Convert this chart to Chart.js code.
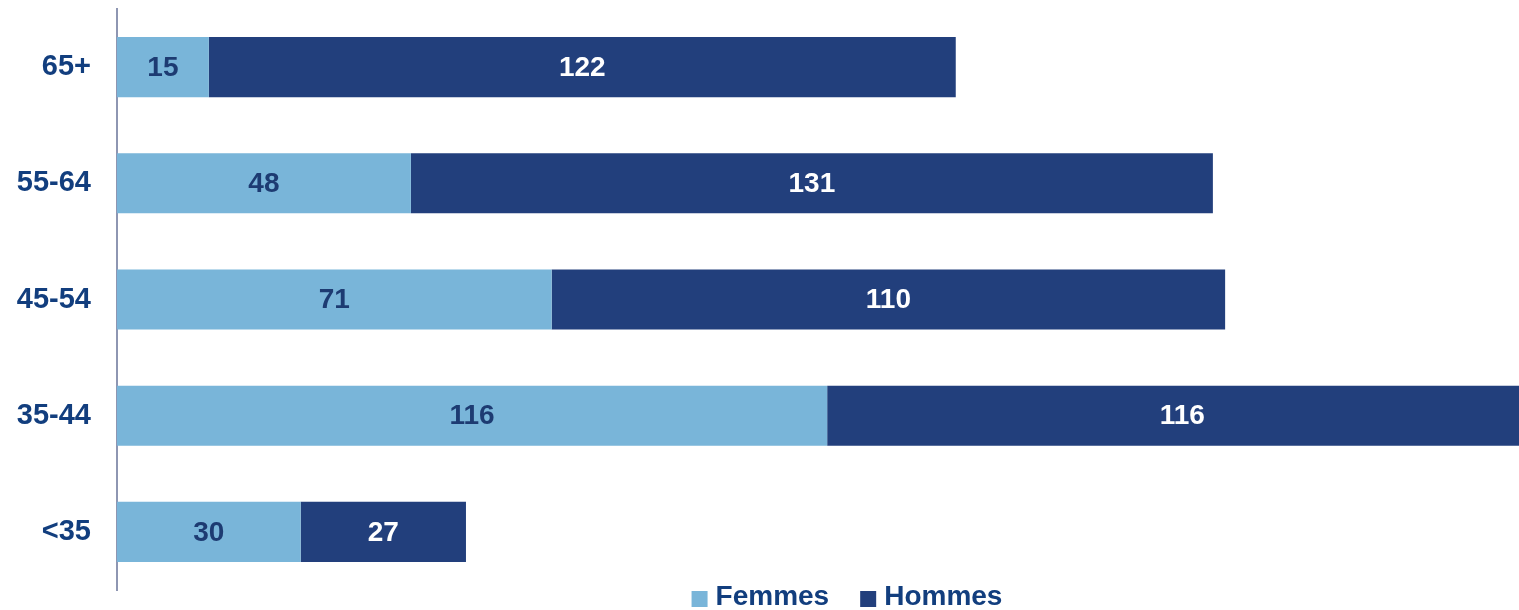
<!DOCTYPE html>
<html>
<head>
<meta charset="utf-8">
<script src="https://cdn.jsdelivr.net/npm/chart.js@4/dist/chart.umd.min.js"></script>
<style>
    html, body { margin: 0; padding: 0; background: #fff; }
    .chart-wrapper { width: 1519px; height: 610px; position: relative; }
</style>
</head>
<body>
<div class="chart-wrapper">
    <canvas id="myChart"></canvas>
</div>
<script>
const ageGroups = ['65+', '55-64', '45-54', '35-44', '<35'];
const femmes = [15, 48, 71, 116, 30];
const hommes = [122, 131, 110, 116, 27];
const seriesNames = ['Femmes', 'Hommes'];

const lightBlue = '#79B5D9';
const darkBlue = '#223F7C';
const textBlue = '#123E7E';
const font = '"Liberation Sans", Arial, sans-serif';

// draws the value in the middle of every bar segment
const barLabels = {
    id: 'barLabels',
    afterDatasetsDraw(chart) {
        const ctx = chart.ctx;
        ctx.save();
        ctx.font = 'bold 28px ' + font;
        ctx.textAlign = 'center';
        ctx.textBaseline = 'middle';
        chart.data.datasets.forEach((ds, i) => {
            chart.getDatasetMeta(i).data.forEach((bar, j) => {
                ctx.fillStyle = i === 0 ? '#1D3B72' : '#ffffff';
                ctx.fillText(ds.data[j], (bar.x + bar.base) / 2, bar.y + 1);
            });
        });
        ctx.restore();
    }
};

// legend under the chart, a bit right of the middle like the original
const bottomLegend = {
    id: 'bottomLegend',
    afterDraw(chart) {
        const ctx = chart.ctx;
        ctx.save();
        ctx.font = 'bold 28px ' + font;
        ctx.textBaseline = 'middle';
        const box = 16, gap = 8, itemGap = 31;
        const widths = chart.data.datasets.map(ds => box + gap + ctx.measureText(ds.label).width);
        const total = widths.reduce((a, b) => a + b, 0) + itemGap * (widths.length - 1);
        const area = chart.chartArea;
        let x = (area.left + area.right) / 2 + 29 - total / 2;
        const y = 597;
        chart.data.datasets.forEach((ds, i) => {
            ctx.fillStyle = ds.backgroundColor;
            ctx.fillRect(x, y - 6, box, box);
            ctx.fillStyle = textBlue;
            ctx.fillText(ds.label, x + box + gap, y);
            x += widths[i] + itemGap;
        });
        ctx.restore();
    }
};

const ref = document.getElementById('myChart').getContext('2d');
const ageChart = new Chart(ref, {
    type: 'bar',
    data: {
        labels: ageGroups,
        datasets: [{
            label: seriesNames[0],
            data: femmes,
            backgroundColor: lightBlue,
            borderWidth: 0
        }, {
            label: seriesNames[1],
            data: hommes,
            backgroundColor: darkBlue,
            borderWidth: 0
        }]
    },
    options: {
        indexAxis: 'y',
        responsive: true,
        maintainAspectRatio: false,
        animation: false,
        datasets: {
            bar: { categoryPercentage: 1, barPercentage: 0.517 }
        },
        layout: { autoPadding: false, padding: { top: 9, bottom: 20, left: 0, right: 0 } },
        scales: {
            x: {
                stacked: true,
                display: false,
                min: 0,
                max: 229
            },
            y: {
                stacked: true,
                grid: { display: false, drawTicks: false },
                border: { display: true, color: '#8E96B2', width: 2 },
                ticks: {
                    color: textBlue,
                    padding: 26,
                    font: { family: font, size: 29, weight: 'bold' }
                },
                // fixed width, and no extra room above/below for the labels
                afterFit(scale) {
                    scale.width = 117;
                    scale.paddingTop = 0;
                    scale.paddingBottom = 0;
                }
            }
        },
        plugins: {
            legend: { display: false },
            tooltip: { enabled: false }
        }
    },
    plugins: [barLabels, bottomLegend]
});
</script>
</body>
</html>
